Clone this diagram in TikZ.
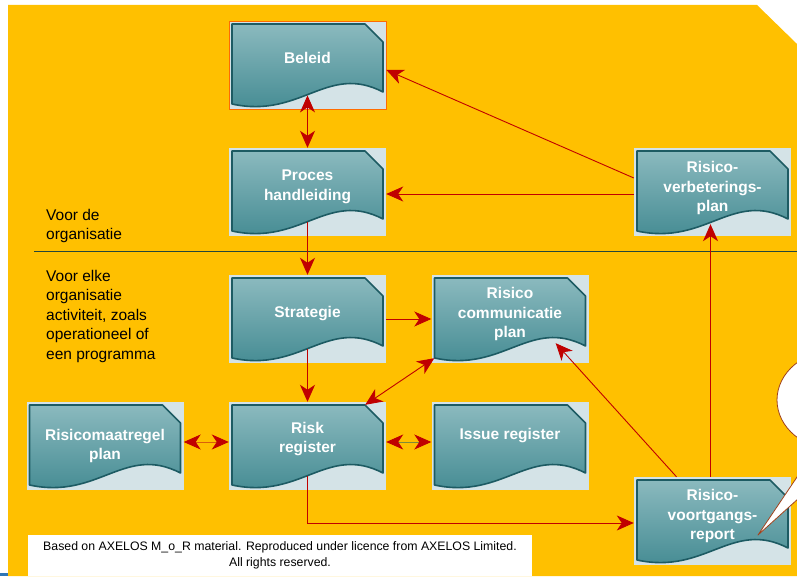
\documentclass[tikz,border=0pt]{standalone}
\usepackage{fontspec}
\setmainfont{Liberation Sans}
\usetikzlibrary{positioning,arrows.meta}

\definecolor{bgorange}{HTML}{FFC000}
\definecolor{docpale}{HTML}{D4E3E7}
\definecolor{doctop}{HTML}{8DBBC0}
\definecolor{docbottom}{HTML}{3E878F}
\definecolor{docline}{HTML}{1D5B63}
\definecolor{linkred}{HTML}{C00000}
\definecolor{linkorange}{HTML}{D9600A}
\definecolor{linkolive}{HTML}{7E8C3A}
\definecolor{sepgreen}{HTML}{24463A}
\definecolor{bubbleline}{HTML}{A0421C}
\definecolor{cornerblue}{HTML}{2E75B6}

\begin{document}
\begin{tikzpicture}[x=1pt, y=1pt, node distance=127pt and 202.5pt, on grid,
    >={Stealth[length=17pt,width=15pt,inset=5pt,color=linkred]},
    doc/.style={rectangle, fill=docpale, minimum width=157pt, minimum height=88pt, inner sep=0pt,
      path picture={
        \path[top color=doctop, bottom color=docbottom, draw=docline, line width=1.6pt, line join=round]
          (-75.5,-39) -- (-75.5,41) -- (57.5,41) -- (75.5,23) -- (75.5,-27)
          .. controls (19.5,2) and (-6.5,-54) .. (-75.5,-39) -- cycle;}},
    doctext/.style={text=white, font=\bfseries\fontsize{15.5}{19.5}\selectfont, align=center, inner sep=0pt, yshift=5pt},
    sidetext/.style={anchor=west, align=left, inner sep=0pt, font=\fontsize{15.5}{19.5}\selectfont},
    link/.style={draw=linkred, line width=0.9pt},
    bubble/.style={draw=bubbleline, fill=white, line width=0.8pt, line join=round}]
  \useasboundingbox (0,0) rectangle (797,576);
  \clip (0,0) rectangle (797,576);

  % background
  \fill[white] (0,0) rectangle (797,576);
  \fill[bgorange] (8,0) -- (8,571) -- (757,571) -- (797,532) -- (797,0) -- cycle;
  \fill[cornerblue] (0,0) rectangle (8,3);
  \draw[sepgreen, line width=0.8pt] (34,324.5) -- (797,324.5);

  \node[sidetext] (fororg) at (46,350) {Voor de\\organisatie};
  \node[sidetext] (foractivity) at (46,260) {Voor elke\\organisatie\\activiteit, zoals\\operationeel of\\een programma};

  % documents
  \node[doc, draw=orange!85!red, line width=0.8pt, label={[doctext,yshift=2pt]center:Beleid}] (beleid) at (307.5,511) {};
  \node[doc, below=of beleid, label={[doctext]center:{Proces\\handleiding}}] (proces) {};
  \node[doc, below=of proces, label={[doctext]center:Strategie}] (strategie) {};
  \node[doc, below=of strategie, label={[doctext,yshift=2pt]center:{Risk\\register}}] (riskreg) {};
  \node[doc, left=of riskreg, label={[doctext,yshift=-5pt]center:{Risicomaatregel\\plan}}] (maatregel) {};
  \node[doc, right=of riskreg, label={[doctext,yshift=5pt]center:Issue register}] (issuereg) {};
  \node[doc, right=of strategie, label={[doctext]center:{Risico\\communicatie\\plan}}] (communicatie) {};
  \node[doc, right=405pt of proces, label={[doctext,yshift=-1pt]center:{Risico-\\verbeterings-\\plan}}] (verbetering) {};
  \node[doc, below right=75pt and 405pt of riskreg, label={[doctext]center:{Risico-\\voortgangs-\\report}}] (voortgang) {};

  % connectors
  \draw[link,<->] ([yshift=14pt]beleid.south) -- (proces.north);
  \draw[link,->] ([yshift=14pt]verbetering.west) -- ([yshift=-5pt]beleid.east);
  \draw[link,->] ([yshift=-2pt]verbetering.west) -- ([yshift=-2pt]proces.east);
  \draw[link,->] ([yshift=14pt]proces.south) -- (strategie.north);
  \draw[link,->] (strategie.east) -- (communicatie.west);
  \draw[link,->] ([yshift=14pt]strategie.south) -- (riskreg.north);
  \draw[link,<->] ([xshift=-21pt,yshift=-3pt]riskreg.north east) -- ([xshift=3pt,yshift=5pt]communicatie.south west);
  \draw[link,<->,draw=linkorange] ([yshift=4pt]maatregel.east) -- ([yshift=4pt]riskreg.west);
  \draw[link,<->,draw=linkolive] ([yshift=4pt]riskreg.east) -- ([yshift=4pt]issuereg.west);
  \draw[link,->] ([yshift=14pt]riskreg.south) |- ([yshift=-2pt]voortgang.west);
  \draw[link,->] ([xshift=-36pt]voortgang.north) -- ([xshift=-33pt,yshift=20pt]communicatie.south east);
  \draw[link,->] ([xshift=-2pt]voortgang.north) -- ([xshift=-2pt,yshift=12pt]verbetering.south);

  % speech bubble
  \draw[bubble] (850,124) -- (758,41) -- (830,148);
  \draw[bubble] (837,176) ellipse [x radius=60, y radius=50];

  % credit
  \node[fill=white, minimum width=504pt, minimum height=41pt, inner sep=0pt, align=center,
    font=\fontsize{12.3}{16}\selectfont] (credit) at (280,20.5)
    {Based on AXELOS M\_o\_R material. Reproduced under licence from AXELOS Limited.\\All rights reserved.};
\end{tikzpicture}
\end{document}
